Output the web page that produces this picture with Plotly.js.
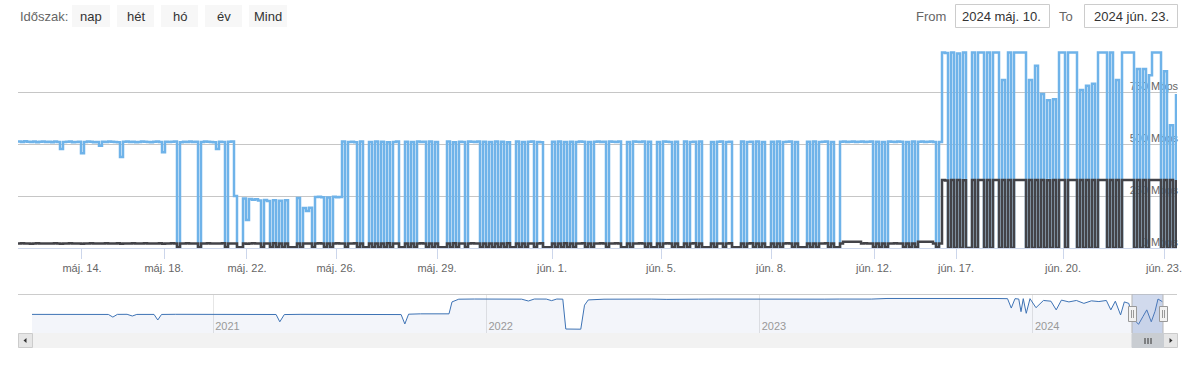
<!DOCTYPE html>
<html>
<head>
<meta charset="utf-8">
<script src="https://cdn.plot.ly/plotly-3.0.1.min.js"></script>
<style>
  html, body { margin: 0; padding: 0; background: #fff; }
  #chart { width: 1189px; height: 380px; }
</style>
</head>
<body>
<div id="chart"></div>
<script>
// ---------------- DATA ----------------
// Download (blue) series, Mbps, ordinal points máj. 10 – jún. 12 (flat / mid part)
const downloadA = [
  512,510,513,511,510,512,508,511,512,510,
  511,509,512,510,476,510,511,512,509,510,
  511,456,510,512,511,509,510,492,511,510,
  512,511,510,509,438,511,512,510,511,509,
  510,512,511,510,509,511,512,510,460,511,
  510,511,512,0,509,511,510,512,510,511,
  0,510,512,511,510,509,476,511,510,0,
  511,512,250,0,0,238,135,236,232,234,
  228,0,231,226,0,229,0,227,0,230,
  0,0,0,240,0,192,178,194,0,245,
  246,244,0,243,0,246,244,245
];
const downloadB = [
  512,0,510,511,509,0,512,0,0,510,
  0,512,0,511,0,508,0,510,512,0,
  0,511,0,510,0,512,510,511,0,512,
  0,510,0,0,0,512,0,509,0,511,
  510,0,512,511,510,512,0,511,0,510,
  0,512,0,511,0,509,0,0,512,0,
  510,0,511,512,0,510,509,0,0,0,
  511,0,512,0,510,0,511,0,510,512,
  511,0,510,0,511,512,510,511,0,512,
  511,510,512,0,0,510,0,512,511,510,
  512,0,511,0,0,510,0,512,511,510,
  0,511,0,0,512,0,510,511,0,512,
  0,0,0,510,0,511,512,0,510,511,
  0,0,0,512,0,510,511,0,512,0,
  510,0,0,511,0,512,0,510,511,512,
  0,510,0,0,0,511,0,512,0,510,
  511,512,0,510,0,0,511,512,510,511,
  512,510,511,512,510,511,512,0,511,0,
  510,0,512,511,510,512,511,0,510,0,
  512,0,511,512,510,511,512,510,0,510
];
const downloadC = [
  940,938,0,940,0,935,0,940,0,0,
  940,0,940,940,0,940,0,940,940,0,
  808,0,940,0,940,940,940,940,0,808,
  0,876,0,740,0,710,0,715,0,940,
  940,0,940,940,940,0,760,0,780,0,
  790,0,940,940,940,0,940,0,808,0,
  940,940,940,940,0,860,0,860,0,830,
  940,940,940,0,850,0,590,0,740
];
// Upload (dark) series, Mbps
const uploadA = [
  22,23,22,22,21,22,23,22,22,22,
  22,22,23,22,21,22,22,23,22,22,
  22,21,22,22,23,22,22,22,22,23,
  22,22,22,23,21,22,22,22,23,22,
  22,22,23,22,22,22,22,23,21,22,
  22,23,22,4,22,22,23,22,22,22,
  4,22,22,23,22,22,22,22,23,4,
  22,22,22,4,4,22,21,22,23,22,
  22,4,22,22,4,23,4,22,4,22,
  4,4,4,22,4,22,22,22,4,22,
  23,22,4,22,4,22,23,22
];
const uploadB = [
  22,4,22,22,23,4,22,4,4,22,
  4,22,4,22,4,23,4,22,22,4,
  4,22,4,22,4,22,23,22,4,22,
  4,22,4,4,4,22,4,23,4,22,
  22,4,22,23,22,22,4,22,4,22,
  4,22,4,22,4,23,4,4,22,4,
  22,4,22,22,4,22,23,4,4,4,
  22,4,22,4,23,4,22,4,22,22,
  23,4,22,4,22,22,23,22,4,22,
  22,23,22,4,4,22,4,22,22,23,
  22,4,22,4,4,22,4,22,23,22,
  4,22,4,4,22,4,22,23,4,22,
  4,4,4,22,4,22,22,4,22,23,
  4,4,4,22,4,22,23,4,22,4,
  22,4,4,22,4,22,4,22,23,22,
  4,22,4,4,4,22,4,22,4,22,
  22,23,4,22,4,4,22,30,30,30,
  30,30,30,22,23,22,22,4,22,4,
  22,4,22,22,23,22,22,4,22,4,
  22,4,30,30,30,30,30,22,4,22
];
const uploadC = [
  327,325,0,327,0,327,0,326,0,0,
  327,0,327,327,0,327,0,327,327,0,
  327,0,327,0,327,327,327,327,0,327,
  0,327,0,327,0,326,0,327,0,327,
  327,0,327,327,327,0,327,0,327,0,
  327,0,327,327,327,0,327,0,327,0,
  327,327,327,327,0,327,0,327,0,327,
  327,327,327,0,327,0,327,0,327
];
// x-axis (ordinal) tick labels and their ordinal positions
const tickLabels = ["máj. 14.","máj. 18.","máj. 22.","máj. 26.","máj. 29.","jún. 1.","jún. 5.","jún. 8.","jún. 12.","jún. 17.","jún. 20.","jún. 23."];
const tickPos    = [21.33, 48.67, 76.33, 106, 139.67, 178, 214.33, 251, 285.33, 312.67, 348.33, 382];
const yTickVals  = [0, 250, 500, 750, 1000];
const yTickText  = ["0 Mbps","250 Mbps","500 Mbps","750 Mbps",""];

// Navigator series (whole history)
const navDates = [
  '2020-05-04','2020-05-25','2020-06-15','2020-07-06','2020-07-27','2020-08-14','2020-08-20','2020-08-26','2020-09-08','2020-09-15','2020-09-21','2020-10-05','2020-10-14','2020-10-19','2020-10-24','2020-11-12','2020-12-03','2020-12-24',
  '2021-01-14','2021-02-04','2021-02-25','2021-03-18','2021-03-26','2021-03-31','2021-04-06','2021-04-27','2021-05-18','2021-06-08','2021-06-29','2021-07-20','2021-08-10','2021-08-31','2021-09-09','2021-09-14','2021-09-19','2021-10-05','2021-10-26','2021-11-12','2021-11-16','2021-11-25','2021-12-16',
  '2022-01-06','2022-01-27','2022-02-17','2022-02-26','2022-03-06','2022-03-22','2022-03-29','2022-04-05','2022-04-13','2022-04-17','2022-05-07','2022-05-12','2022-05-17','2022-06-07','2022-06-28','2022-07-19','2022-08-09','2022-08-30','2022-09-20','2022-10-11','2022-11-01','2022-11-22','2022-12-13',
  '2023-01-03','2023-01-24','2023-02-14','2023-03-07','2023-03-28','2023-04-18','2023-05-09','2023-05-30','2023-06-20','2023-07-11','2023-08-01','2023-08-22','2023-09-12','2023-10-03','2023-10-24','2023-11-14','2023-11-28','2023-12-03','2023-12-08','2023-12-13','2023-12-16','2023-12-19','2023-12-23','2023-12-28',
  '2024-01-05','2024-01-15','2024-01-25','2024-02-01','2024-02-08','2024-02-18','2024-02-28','2024-03-09','2024-03-19','2024-03-29','2024-04-08','2024-04-14','2024-04-20','2024-04-27','2024-05-02','2024-05-08','2024-05-13','2024-05-21','2024-05-27','2024-06-01','2024-06-07','2024-06-12','2024-06-16','2024-06-22'
];
const navValues = [
  515,512,518,514,516,513,440,515,517,470,514,516,514,360,513,517,514,512,
  508,518,505,515,512,310,510,516,512,516,510,514,508,512,510,250,520,530,528,530,860,935,940,
  938,942,936,885,940,938,895,940,936,110,105,770,915,935,940,932,938,930,940,936,938,935,940,
  938,935,940,937,936,939,935,938,955,957,954,956,955,957,955,954,950,690,950,940,590,950,545,950,
  700,900,880,640,910,860,900,820,890,870,900,640,880,500,860,820,420,240,460,640,310,600,940,865
];
const yearTicks = ['2021-01-01','2022-01-01','2023-01-01','2024-01-01'];
const yearLabels = ['2021','2022','2023','2024'];

const rangeButtons = ["nap","hét","hó","év","Mind"];
const fromText = "2024 máj. 10.";
const toText = "2024 jún. 23.";

// ---------------- BUILD ----------------
const download = downloadA.concat(downloadB, downloadC);
const upload = uploadA.concat(uploadB, uploadC);
const slots = download.map((_, i) => i);

const W = 1189, H = 380;
const PX = v => v / W;
const PY = v => 1 - v / H;
const FONT = '"Liberation Sans", Arial, Helvetica, sans-serif';

const traces = [
  { x: slots, y: download, type: 'scatter', mode: 'lines', name: 'Letöltés',
    line: { color: '#6fb3e9', width: 2.5, shape: 'hv' }, hoverinfo: 'skip', xaxis: 'x', yaxis: 'y' },
  { x: slots, y: upload, type: 'scatter', mode: 'lines', name: 'Feltöltés',
    line: { color: '#434348', width: 2.5, shape: 'hv' }, hoverinfo: 'skip', xaxis: 'x', yaxis: 'y' },
  { x: navDates, y: navValues, type: 'scatter', mode: 'lines', name: 'nav',
    line: { color: '#3d72b4', width: 1 }, fill: 'tozeroy', fillcolor: 'rgba(51,92,173,0.06)',
    hoverinfo: 'skip', xaxis: 'x2', yaxis: 'y2' }
];

function rect(x0, y0, x1, y1, fill, line, lw) {
  return { type: 'rect', xref: 'paper', yref: 'paper',
    x0: PX(x0), x1: PX(x1), y0: PY(y0), y1: PY(y1),
    fillcolor: fill, line: { color: line || fill, width: lw === undefined ? 1 : lw } };
}
function seg(x0, y0, x1, y1, color, w) {
  return { type: 'line', xref: 'paper', yref: 'paper',
    x0: PX(x0), x1: PX(x1), y0: PY(y0), y1: PY(y1), line: { color: color, width: w || 1 } };
}
function tri(pts, color) {
  const p = pts.map((q, i) => (i ? 'L' : 'M') + PX(q[0]) + ',' + PY(q[1])).join(' ') + ' Z';
  return { type: 'path', xref: 'paper', yref: 'paper', path: p, fillcolor: color, line: { color: color, width: 0 } };
}
function note(text, x, y, anchor, size, color) {
  return { text: text, xref: 'paper', yref: 'paper', x: PX(x), y: PY(y), xanchor: anchor, yanchor: 'middle',
    showarrow: false, font: { family: FONT, size: size || 13, color: color || '#333' } };
}

const shapes = [];
const annotations = [];

// range selector
annotations.push(note('Időszak:', 18, 16, 'left', 13, '#666'));
const btnX = [[72,110],[117,154],[161,198],[205,242],[249,287]];
rangeButtons.forEach((b, i) => {
  shapes.push(rect(btnX[i][0], 5, btnX[i][1], 27, '#f7f7f7', '#f7f7f7', 0));
  annotations.push(note(b, (btnX[i][0] + btnX[i][1]) / 2, 16.5, 'center', 13, '#333'));
});
// from / to
annotations.push(note('From', 948, 16.5, 'right', 13, '#666'));
shapes.push(rect(955.5, 4.5, 1049.5, 27.5, '#ffffff', '#cccccc', 1));
annotations.push(note(fromText, 1002, 16.5, 'center', 13, '#333'));
annotations.push(note('To', 1075, 16.5, 'right', 13, '#666'));
shapes.push(rect(1084.5, 4.5, 1177.5, 27.5, '#ffffff', '#cccccc', 1));
annotations.push(note(toText, 1131, 16.5, 'center', 13, '#333'));

// navigator frame
shapes.push(seg(18, 294.5, 1177, 294.5, '#cccccc', 1));
// mask
shapes.push(rect(1132, 294.5, 1163, 333, 'rgba(102,133,194,0.3)', 'rgba(0,0,0,0)', 0));
shapes.push(seg(1132, 294.5, 1132, 333, '#b5b5b5', 1));
shapes.push(seg(1163, 294.5, 1163, 333, '#b5b5b5', 1));
// handles
[[1128, 1136], [1159, 1167]].forEach(h => {
  shapes.push(rect(h[0] + 0.5, 306.5, h[1] + 0.5, 321.5, '#f2f2f2', '#999999', 1));
  shapes.push(seg(h[0] + 3.5, 310, h[0] + 3.5, 318, '#999999', 1));
  shapes.push(seg(h[0] + 5.5, 310, h[0] + 5.5, 318, '#999999', 1));
});
// scrollbar
shapes.push(rect(18, 333, 1177, 348, '#f2f2f2', '#f2f2f2', 0));
shapes.push(rect(18.5, 333.5, 32.5, 347.5, '#e6e6e6', '#cccccc', 1));
shapes.push(rect(1163.5, 333.5, 1177.5, 347.5, '#e6e6e6', '#cccccc', 1));
shapes.push(tri([[23.5, 340.5], [26.5, 338], [26.5, 343]], '#333333'));
shapes.push(tri([[1172.5, 340.5], [1169.5, 338], [1169.5, 343]], '#333333'));
shapes.push(rect(1132, 333.5, 1163.5, 347.5, '#c9cdd2', '#c9cdd2', 1));
[1145, 1148, 1151].forEach(gx => shapes.push(seg(gx, 338, gx, 344, '#333333', 1)));

const layout = {
  width: W, height: H,
  margin: { l: 0, r: 0, t: 0, b: 0, pad: 0 },
  paper_bgcolor: '#ffffff', plot_bgcolor: 'rgba(0,0,0,0)',
  showlegend: false,
  font: { family: FONT, size: 11, color: '#666' },
  xaxis: {
    domain: [PX(18), PX(1177)], range: [0, 386.33], fixedrange: true,
    tickmode: 'array', tickvals: tickPos, ticktext: tickLabels,
    ticks: 'outside', ticklen: 10, tickwidth: 1, tickcolor: '#ccd6eb',
    ticklabeloverflow: 'allow',
    showline: true, linecolor: '#ccd6eb', linewidth: 1,
    showgrid: false, zeroline: false,
    tickfont: { family: FONT, size: 11, color: '#666' }
  },
  yaxis: {
    domain: [PY(248), PY(40)], range: [0, 1000], fixedrange: true,
    side: 'right', tickmode: 'array', tickvals: yTickVals, ticktext: yTickText,
    ticklabelposition: 'inside', ticklabelshift: -6, ticklabelstandoff: -4, ticks: '',
    ticklabeloverflow: 'allow',
    showgrid: true, gridcolor: '#c6c6c6', gridwidth: 1,
    zeroline: false, showline: false, layer: 'below traces',
    tickfont: { family: FONT, size: 11, color: '#666' }
  },
  xaxis2: {
    domain: [PX(32), PX(1164)], anchor: 'y2', type: 'date',
    range: ['2020-05-04', '2024-06-24'], fixedrange: true,
    tickmode: 'array', tickvals: yearTicks, ticktext: yearLabels,
    ticklabelposition: 'inside right', ticklabelstandoff: -5, ticklabelshift: 2, ticks: '',
    ticklabeloverflow: 'allow',
    showgrid: true, gridcolor: '#e6e6e6', showline: false, zeroline: false,
    tickfont: { family: FONT, size: 11, color: '#999' }
  },
  yaxis2: {
    domain: [PY(333), PY(294.5)], anchor: 'x2', range: [0, 1065], fixedrange: true,
    visible: false, showgrid: false, zeroline: false
  },
  shapes: shapes,
  annotations: annotations
};

Plotly.newPlot('chart', traces, layout, { staticPlot: true, displayModeBar: false });
</script>
</body>
</html>
